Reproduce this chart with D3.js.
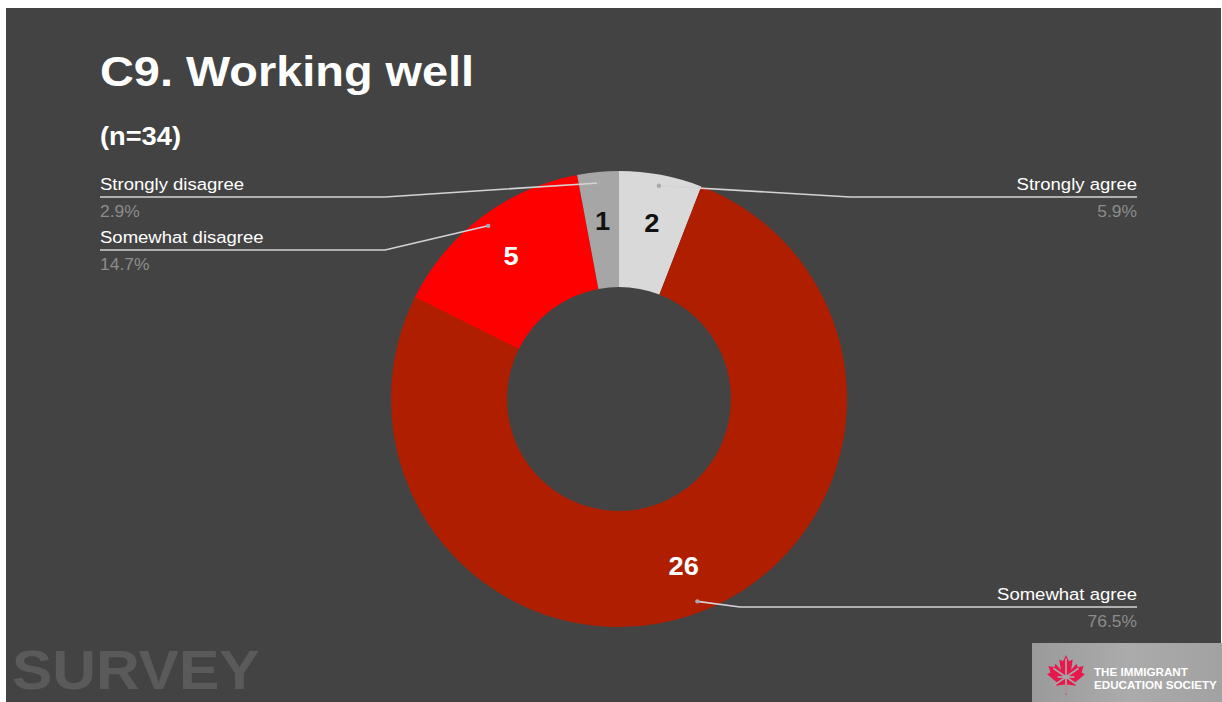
<!DOCTYPE html>
<html>
<head>
<meta charset="utf-8">
<script src="https://cdn.jsdelivr.net/npm/d3@7"></script>
<style>
  html, body { margin: 0; padding: 0; background: #ffffff; }
  svg { display: block; }
  text { font-family: "Liberation Sans", Arial, sans-serif; }
</style>
</head>
<body>
<svg id="chart" width="1222" height="702"></svg>
<script>
// Survey answers, clockwise from 12 o'clock
const categories = ["Strongly agree", "Somewhat agree", "Somewhat disagree", "Strongly disagree"];
const counts = [2, 26, 5, 1];
const sliceColors = ["#d9d9d9", "#b01e00", "#ff0000", "#a6a6a6"];
const countColors = ["#111111", "#ffffff", "#ffffff", "#111111"];
const titleText = "C9. Working well";
const sampleText = "(n=34)";

const svg = d3.select("#chart");
const W = 1222, H = 702;
const sx = 1.09; // horizontal text stretch used in the slide

// slide background
svg.append("rect").attr("x", 6).attr("y", 8).attr("width", 1215).attr("height", H - 8)
  .attr("fill", "#434343");

function stretchedText(g, x, y, txt, opts) {
  const t = g.append("text")
    .attr("transform", `translate(${x},${y}) scale(${opts.sx || sx},1)`)
    .attr("text-anchor", opts.anchor || "start")
    .attr("font-size", opts.size)
    .attr("font-weight", opts.weight || "normal")
    .attr("fill", opts.fill || "#ffffff")
    .text(txt);
  if (opts.baseline) t.attr("dy", opts.baseline);
  return t;
}

// title block
stretchedText(svg, 100, 86, titleText, { size: 43, weight: "bold" });
stretchedText(svg, 100, 145, sampleText, { size: 25, weight: "bold" });

// donut
const cx = 619, cy = 399, rOuter = 228, rInner = 112;
const total = d3.sum(counts);
const data = categories.map((c, i) => ({ name: c, value: counts[i], color: sliceColors[i], ink: countColors[i] }));
const pie = d3.pie().value(d => d.value).sort(null).startAngle(0).endAngle(2 * Math.PI);
const arcs = pie(data);
const arc = d3.arc().innerRadius(rInner).outerRadius(rOuter);
const labelArc = d3.arc().innerRadius(179).outerRadius(179);
const dotArc = d3.arc().innerRadius(217).outerRadius(217);

const gPie = svg.append("g").attr("transform", `translate(${cx},${cy})`);
gPie.selectAll("path.slice").data(arcs).join("path")
  .attr("class", "slice")
  .attr("d", arc)
  .attr("fill", d => d.data.color);

gPie.selectAll("text.count").data(arcs).join("text")
  .attr("class", "count")
  .attr("transform", d => { const [x, y] = labelArc.centroid(d); return `translate(${x},${y}) scale(${sx},1)`; })
  .attr("text-anchor", "middle")
  .attr("dy", "0.36em")
  .attr("font-size", 25)
  .attr("font-weight", "bold")
  .attr("fill", d => d.data.ink)
  .text(d => d.data.value);

// callout labels: side, line y, elbow x, end x
const callouts = {
  "Strongly agree":    { side: "right", lineY: 197, elbowX: 850, endX: 1137 },
  "Somewhat agree":    { side: "right", lineY: 607, elbowX: 740, endX: 1137 },
  "Somewhat disagree": { side: "left",  lineY: 250, elbowX: 385, endX: 100 },
  "Strongly disagree": { side: "left",  lineY: 197, elbowX: 385, endX: 100 }
};
const pct = d3.format(".1f");
const gLab = svg.append("g");
arcs.forEach(d => {
  const c = callouts[d.data.name];
  const [dx, dy] = dotArc.centroid(d);
  const px = cx + dx, py = cy + dy;
  gLab.append("polyline")
    .attr("points", `${px},${py} ${c.elbowX},${c.lineY} ${c.endX},${c.lineY}`)
    .attr("fill", "none")
    .attr("stroke", "#d4d4d4")
    .attr("stroke-width", 1.6);
  gLab.append("circle").attr("cx", px).attr("cy", py).attr("r", 2.2).attr("fill", "#a9a9a9");
  const anchor = c.side === "left" ? "start" : "end";
  stretchedText(gLab, c.endX, c.lineY - 7, d.data.name, { size: 17, anchor: anchor, fill: "#ffffff" });
  stretchedText(gLab, c.endX, c.lineY + 20, pct(d.data.value / total * 100) + "%", { size: 16, anchor: anchor, fill: "#8c8c8c" });
});

// footer watermark
stretchedText(svg, 12, 689, "SURVEY", { size: 56, weight: "bold", fill: "#5a5a5a", sx: 1.08 });

// society logo box
const grad = svg.append("defs").append("linearGradient").attr("id", "logoGrad")
  .attr("x1", "0").attr("x2", "1").attr("y1", "0").attr("y2", "0");
grad.append("stop").attr("offset", "0").attr("stop-color", "#9a9a9a");
grad.append("stop").attr("offset", "0.5").attr("stop-color", "#ababab");
grad.append("stop").attr("offset", "1").attr("stop-color", "#a2a2a2");
svg.append("rect").attr("x", 1032).attr("y", 643).attr("width", 190).attr("height", 59)
  .attr("fill", "url(#logoGrad)");

const leaf = "M50,0 L57,14 L66,10 L62,34 L75,20 L78,28 L92,25 L87,40 L95,44 L72,62 L75,70 L52,67 L52,90 L48,90 L48,67 L25,70 L28,62 L5,44 L13,40 L8,25 L22,28 L25,20 L38,34 L34,10 L43,14 Z";
const gLeaf = svg.append("g").attr("transform", "translate(1045,655) scale(0.42,0.44)");
gLeaf.append("path").attr("d", leaf).attr("fill", "#e8184c");
[[20, 30, 80, 70], [80, 30, 20, 70], [50, 8, 50, 88], [30, 50, 70, 50]].forEach(l =>
  gLeaf.append("line").attr("x1", l[0]).attr("y1", l[1]).attr("x2", l[2]).attr("y2", l[3])
    .attr("stroke", "#a7a7a7").attr("stroke-width", 4));

stretchedText(svg, 1094, 676, "THE IMMIGRANT", { size: 11, weight: "bold", fill: "#ffffff", sx: 1.06 });
stretchedText(svg, 1094, 689, "EDUCATION SOCIETY", { size: 11, weight: "bold", fill: "#ffffff", sx: 1.06 });
</script>
</body>
</html>
